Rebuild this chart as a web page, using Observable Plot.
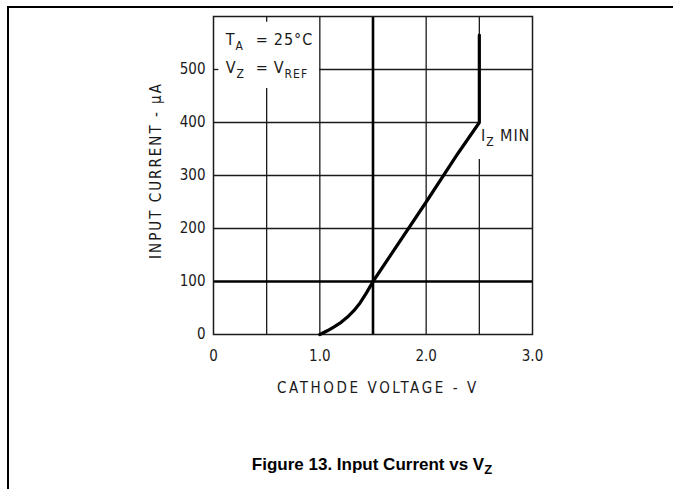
<!DOCTYPE html>
<html>
<head>
<meta charset="utf-8">
<script src="https://cdn.jsdelivr.net/npm/d3@7"></script>
<script src="https://cdn.jsdelivr.net/npm/@observablehq/plot@0.6"></script>
<style>
  html, body { margin: 0; padding: 0; background: #fff; }
  #wrap { position: relative; width: 673px; height: 489px; overflow: hidden; }
  #border { position: absolute; left: 7px; top: 6px; right: -10px; bottom: -10px;
            border-top: 2px solid #000; border-left: 2px solid #000; }
  #chart { position: absolute; left: 0; top: 0; }
  #caption { position: absolute; left: 122px; width: 500px; top: 455px; text-align: center;
             font: bold 17px "Liberation Sans", Arial, sans-serif; color: #000; line-height: 20px; }
  #caption sub { font-size: 13px; vertical-align: -4px; line-height: 0; }
</style>
</head>
<body>
<div id="wrap">
  <div id="border"></div>
  <div id="chart"></div>
  <div id="caption">Figure 13. Input Current vs V<sub>Z</sub></div>
</div>
<script>
// ---- data ----
const cathodeVoltage = [1.0, 1.07, 1.13, 1.2, 1.26, 1.32, 1.38, 1.44, 1.5, 2.0, 2.3, 2.5, 2.5];
const inputCurrent   = [0,   7,    14,   23,  33,   45,   60,   79,   100, 250, 342, 400, 565];

const xTicks = [0, 1, 2, 3];
const xTickLabels = ["0", "1.0", "2.0", "3.0"];
const yTicks = [0, 100, 200, 300, 400, 500];
const yTickLabels = ["0", "100", "200", "300", "400", "500"];

const xTitle = "CATHODE VOLTAGE - V";
const yTitle = "INPUT CURRENT - \u00B5A";

// grid segments (broken where annotations sit)
const vGridX  = [0.5, 0.5, 1.0, 2.0, 2.5, 2.5];
const vGridY1 = [589, 0,   0,   0,   400, 0];
const vGridY2 = [600, 464, 600, 600, 600, 330];
const hGridY  = [200, 300, 400, 500, 500];
const hGridX1 = [0,   0,   0,   0,    1.0];
const hGridX2 = [3,   3,   2.5, 0.05, 3];
const boldX = [1.5];
const boldY = [100];

// annotation anchors (data units)
const annX = [0.12, 0.12, 2.52];
const annY = [545, 492, 364];

const curve = cathodeVoltage.map((v, i) => ({v, i: inputCurrent[i]}));
const vGrid = vGridX.map((x, k) => ({x, y1: vGridY1[k], y2: vGridY2[k]}));
const hGrid = hGridY.map((y, k) => ({y, x1: hGridX1[k], x2: hGridX2[k]}));

const ink = "#1a1a1a";
const narrow = '"Liberation Sans Narrow", "DejaVu Sans Condensed", sans-serif';

const plot = Plot.plot({
  width: 673,
  height: 489,
  marginLeft: 213,
  marginRight: 141,
  marginTop: 16,
  marginBottom: 155,
  style: {fontFamily: narrow, fontSize: "15px", color: ink, background: "transparent"},
  x: {domain: [0, 3]},
  y: {domain: [0, 600]},
  marks: [
    Plot.ruleX(vGrid, {x: "x", y1: "y1", y2: "y2", stroke: ink, strokeWidth: 1.3}),
    Plot.ruleY(hGrid, {y: "y", x1: "x1", x2: "x2", stroke: ink, strokeWidth: 1.3}),
    Plot.ruleX(boldX, {stroke: "#000", strokeWidth: 2.6}),
    Plot.ruleY(boldY, {stroke: "#000", strokeWidth: 2.6}),
    Plot.frame({stroke: ink, strokeWidth: 1.5}),
    Plot.line(curve, {x: "v", y: "i", stroke: "#000", strokeWidth: 3.2, strokeLinejoin: "miter"}),
    Plot.axisX({ticks: xTicks, tickSize: 0, tickPadding: 16, tickFormat: (d) => xTickLabels[xTicks.indexOf(d)], label: null, fontSize: 15}),
    Plot.axisY({ticks: yTicks, tickSize: 0, tickPadding: 8, tickFormat: (d) => yTickLabels[yTicks.indexOf(d)], label: null, fontSize: 15}),
    Plot.text([xTitle], {frameAnchor: "bottom", dx: 5, dy: 58, text: (d) => d, fontSize: 15, fill: ink, textAnchor: "middle"}),
    Plot.text([yTitle], {frameAnchor: "left", dx: -57, dy: -5, rotate: -90, text: (d) => d, fontSize: 15, fill: ink, textAnchor: "middle"})
  ]
});

document.getElementById("chart").appendChild(plot);

// letter spacing for titles (plotter look)
d3.select(plot).selectAll("text").filter(function () {
  const t = this.textContent; return t === xTitle;
}).attr("letter-spacing", "2.6px");
d3.select(plot).selectAll("text").filter(function () {
  const t = this.textContent; return t === yTitle;
}).attr("letter-spacing", "2px");

// annotations with subscripts, placed via the plot's own scales
// each part: [text, isSubscript, pixel offset from anchor (null = follow on)]
const sx = plot.scale("x"), sy = plot.scale("y");
const svg = d3.select(plot);
const annParts = [
  [["T", false, 0], ["A", true, null], ["=", false, 30], ["25\u00B0C", false, 48]],
  [["V", false, 0], ["Z", true, null], ["=", false, 30], ["V", false, 48], ["REF", true, null]],
  [["I", false, 0], ["Z", true, null], ["MIN", false, 19]]
];
annParts.forEach((parts, k) => {
  const x0 = sx.apply(annX[k]);
  const y0 = sy.apply(annY[k]);
  const t = svg.append("text")
    .attr("text-anchor", "start")
    .attr("fill", ink)
    .attr("font-family", narrow)
    .attr("font-size", 16)
    .attr("letter-spacing", "1px");
  parts.forEach(([s, sub, off]) => {
    const ts = t.append("tspan").text(s)
      .attr("y", sub ? y0 + 5 : y0)
      .attr("font-size", sub ? 12 : 16);
    if (off !== null) ts.attr("x", x0 + off);
  });
});
</script>
</body>
</html>
